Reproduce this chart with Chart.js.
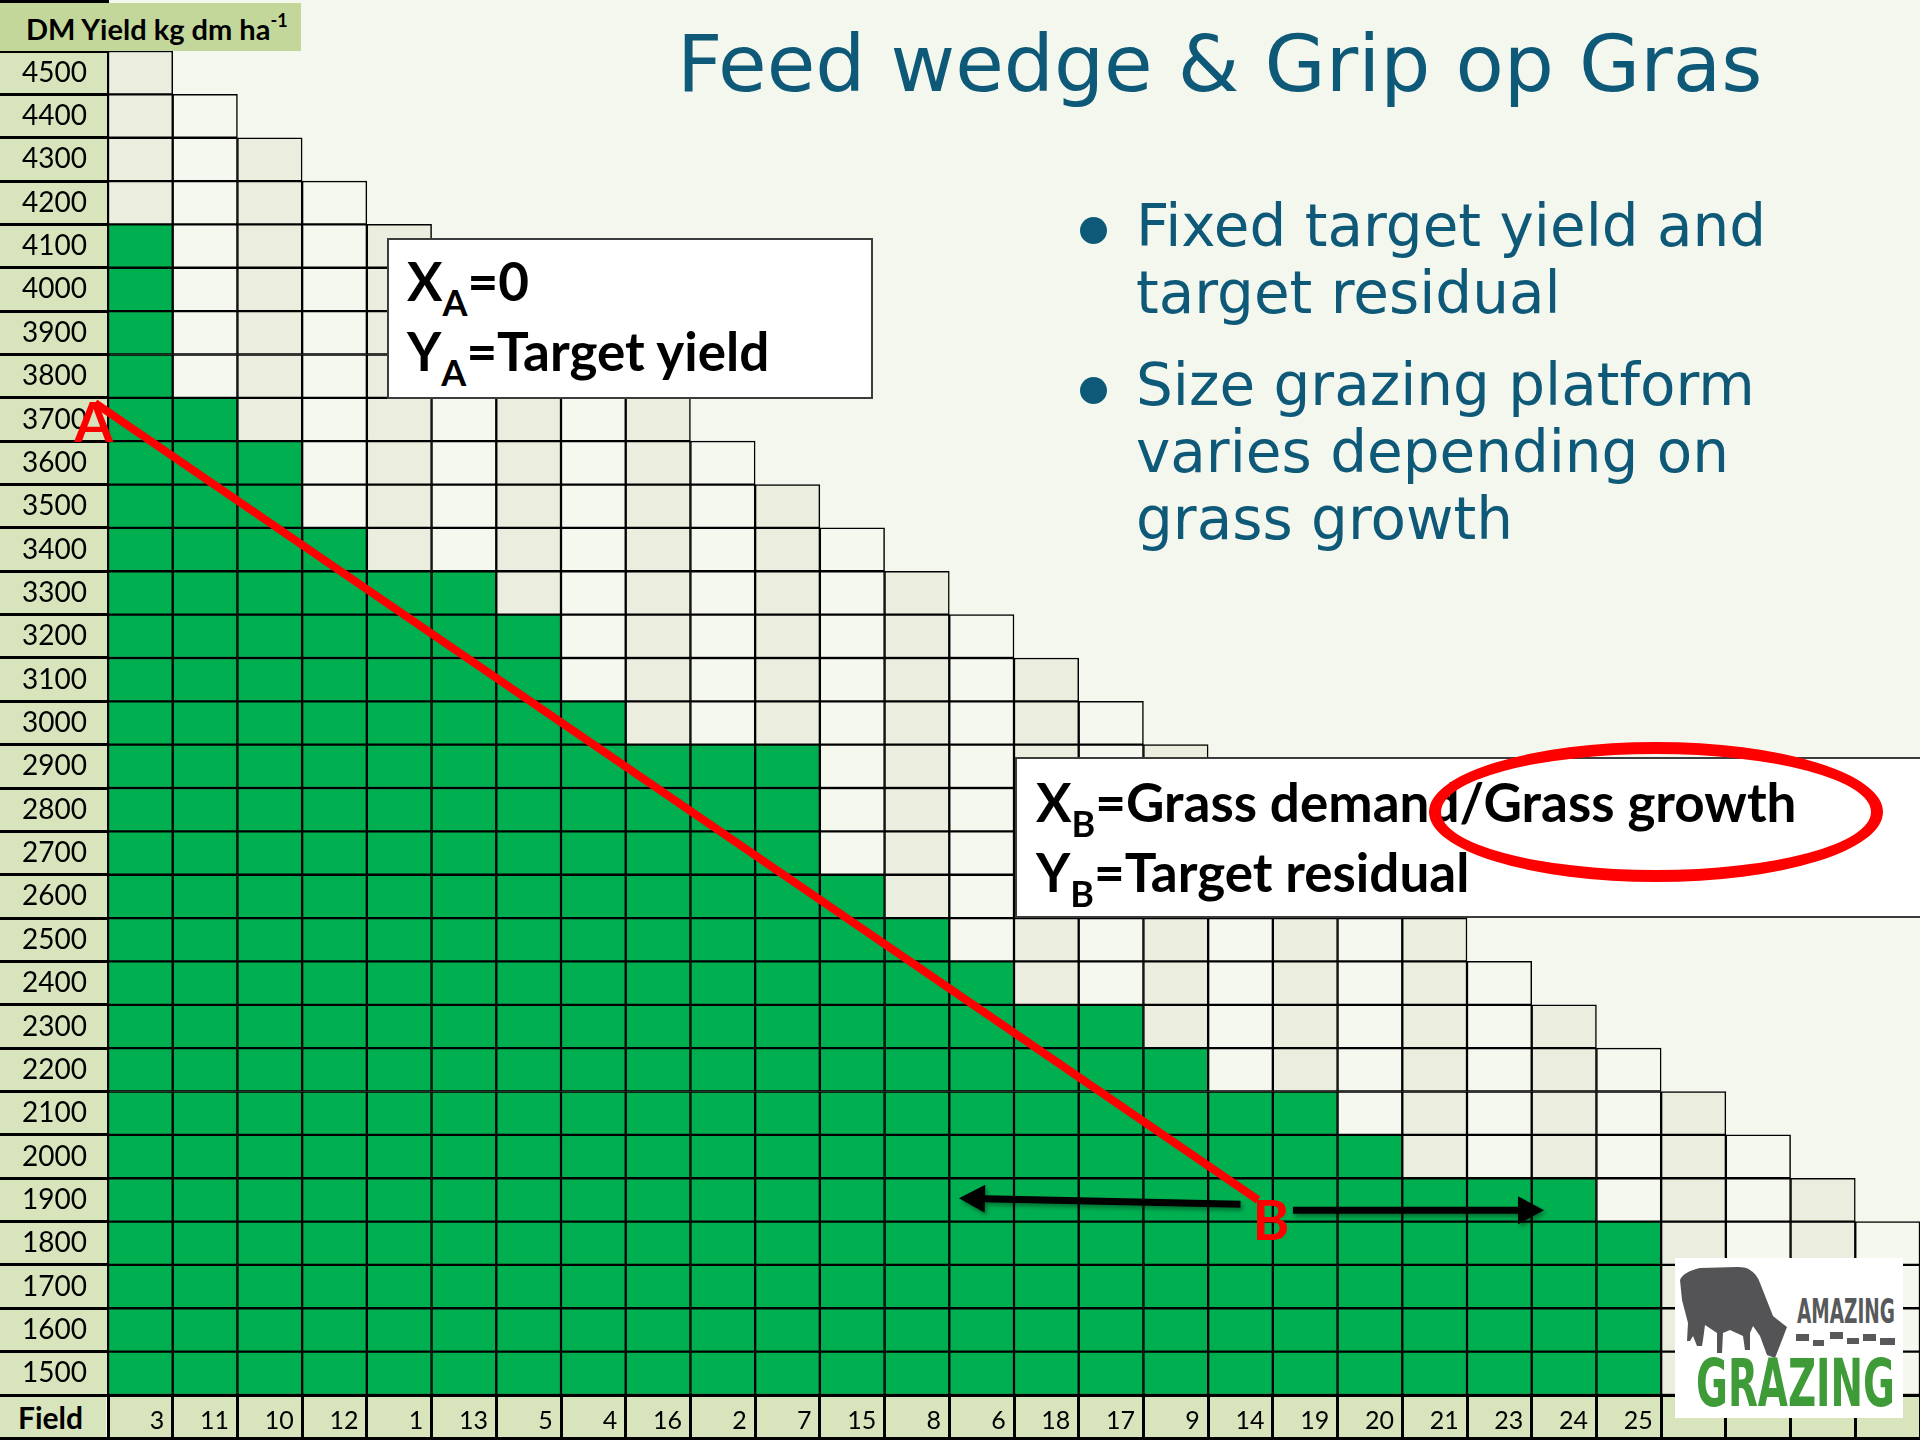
<!DOCTYPE html>
<html lang="en">
<head>
<meta charset="UTF-8">
<title>Feed wedge &amp; Grip op Gras</title>
<script src="https://cdn.jsdelivr.net/npm/chart.js@4"></script>
<style>
  html, body { margin: 0; padding: 0; }
  body { width: 1920px; height: 1440px; position: relative; overflow: hidden; background: #F4F7EE; }
  #wedge { position: absolute; left: 0; top: 0; }
  .ov { position: absolute; white-space: nowrap; }
  .title { left: 677px; top: 25px; font: 79px/79px 'DejaVu Sans', sans-serif; color: #0E5878; }
  .bullets { left: 1136px; font: 58px/67px 'DejaVu Sans', sans-serif; color: #0E5878; }
  .dot { width: 27px; height: 27px; border-radius: 50%; background: #0E5878; }
  .box { background: #fff; border: 2px solid #3C3C3C; box-sizing: border-box; }
  .boxtxt { font: bold 53px/70px Lato, sans-serif; color: #000; }
  .sub { font-size: 36px; vertical-align: -15px; line-height: 0; }
  .header { left: 0; top: 3px; width: 301px; height: 48px; background: #C4D79B; box-sizing: border-box;
            padding: 2px 0 0 26px; font: bold 29px/48px Lato, sans-serif; color: #000; }
  .header sup { font-size: 18px; vertical-align: 13px; line-height: 0; }
  .field { left: 0; top: 1397px; width: 106px; height: 40px; background: #D8E4BC; box-sizing: border-box;
           padding-left: 18px; font: bold 30px/40px Lato, sans-serif; color: #000; }
  .ring { left: 1429px; top: 742px; width: 454px; height: 140px; box-sizing: border-box;
          border: 12px solid #FF0000; border-radius: 50%; }
</style>
</head>
<body>
<canvas id="wedge" width="1920" height="1440"></canvas>

<div class="ov" style="left:0;top:0;width:109px;height:3px;background:#000"></div>
<div class="ov header">DM Yield kg dm ha<sup>-1</sup></div>
<div class="ov field">Field</div>
<div class="ov" style="left:0;top:1437px;width:1920px;height:3px;background:#000"></div>

<div class="ov title">Feed wedge &amp; Grip op Gras</div>

<div class="ov dot" style="left:1080px;top:217px"></div>
<div class="ov bullets" style="top:193px">Fixed target yield and<br>target residual</div>
<div class="ov dot" style="left:1080px;top:377px"></div>
<div class="ov bullets" style="top:352px">Size grazing platform<br>varies depending on<br>grass growth</div>

<div class="ov box" style="left:387px;top:238px;width:486px;height:161px"></div>
<div class="ov boxtxt" style="left:407px;top:246px">X<span class="sub">A</span>=0<br>Y<span class="sub">A</span>=Target yield</div>

<div class="ov box" style="left:1015px;top:757px;width:920px;height:161px"></div>
<div class="ov boxtxt" style="left:1036px;top:767px">X<span class="sub">B</span>=Grass demand/Grass growth<br>Y<span class="sub">B</span>=Target residual</div>
<div class="ov ring"></div>

<svg class="ov" style="left:1675px;top:1258px" width="228" height="160" viewBox="0 0 228 160">
  <rect width="228" height="160" fill="#fff"/>
  <path fill="#545457" d="M5,22 Q8,14 25,10 L62,9 Q72,9 75,12 Q82,16 85,25 L98,58 L108,66 L112,69
        L107,82 L100,100 L92,97 L85,78 L78,68 L75,75 L75,92 L70,92 L68,78 L55,72 L48,75 L47,95
        L42,95 L42,75 L30,67 L28,82 L27,88 L22,88 L18,78 L15,83 L12,83 L13,65 L7,42 Z"/>
  <text x="122" y="65" font-family="'DejaVu Sans Condensed', sans-serif" font-weight="bold" font-size="34"
        fill="#58595B" textLength="98" lengthAdjust="spacingAndGlyphs">AMAZING</text>
  <g fill="#58595B">
    <rect x="121" y="76" width="13" height="7"/><rect x="138" y="82" width="11" height="6"/>
    <rect x="155" y="74" width="13" height="7"/><rect x="172" y="80" width="12" height="6"/>
    <rect x="188" y="76" width="13" height="7"/><rect x="205" y="80" width="15" height="7"/>
  </g>
  <text x="21" y="148" font-family="'DejaVu Sans Condensed', sans-serif" font-weight="bold" font-size="66"
        fill="#3E9B37" textLength="199" lengthAdjust="spacingAndGlyphs">GRAZING</text>
</svg>

<script>
// fields in grazing order (last four columns carry no field number)
const fields = ['3', '11', '10', '12', '1', '13', '5', '4', '16', '2', '7', '15', '8', '6',
                '18', '17', '9', '14', '19', '20', '21', '23', '24', '25', '', '', '', ''];
// yield rows on the left, kg dm/ha
const yieldRows = [1500, 1600, 1700, 1800, 1900, 2000, 2100, 2200, 2300, 2400, 2500,
                   2600, 2700, 2800, 2900, 3000, 3100, 3200, 3300, 3400, 3500, 3600,
                   3700, 3800, 3900, 4000, 4100, 4200, 4300, 4400, 4500];
// current yield per field (top green cell)
const greenTop = [4100, 3700, 3600, 3400, 3300, 3300, 3200, 3000, 2900, 2900, 2900, 2600,
                  2500, 2400, 2300, 2300, 2200, 2100, 2100, 2000, 1900, 1900, 1900, 1800,
                  null, null, null, null];
// highest cell drawn in each column (the wedge outline)
const gridTop = [4500, 4400, 4300, 4200, 4100, 4000, 3900, 3800, 3700, 3600, 3500, 3400,
                 3300, 3200, 3100, 3000, 2900, 2800, 2700, 2600, 2500, 2400, 2300, 2200,
                 2100, 2000, 1900, 1800];
// target line from A to B (x in columns from the left edge, y in kg dm/ha)
const lineAB = [{ x: -0.2, y: 3738 }, { x: 17.77, y: 1900 }];
const arrowLeft = [{ x: 17.5, y: 1890 }, { x: 13.15, y: 1904 }];
const arrowRight = [{ x: 18.31, y: 1876 }, { x: 22.19, y: 1876 }];
const pointLabels = [{ text: 'A', x: -0.22, y: 3690 }, { text: 'B', x: 17.97, y: 1850 }];

const GREEN = '#00B050', BEIGE = '#EBEEDF', PALE = '#F5F8EF', LABEL_BG = '#D8E4BC';
const rowEdges = yieldRows.map(r => r - 50).concat(yieldRows[yieldRows.length - 1] + 50);

// one bar dataset per yield row, each cell a floating bar
const cellSets = yieldRows.map(r => ({
    type: 'bar',
    label: String(r),
    data: gridTop.map(top => (r <= top ? [r - 50, r + 50] : null)),
    backgroundColor: gridTop.map((top, c) =>
        (greenTop[c] !== null && r <= greenTop[c]) ? GREEN : (c % 2 === 0 ? BEIGE : PALE)),
    borderColor: '#000',
    borderWidth: 1.5,
    borderSkipped: false,
    grouped: false,
    barPercentage: 1,
    categoryPercentage: 1
}));

function drawArrow(ctx, from, to) {
    const ang = Math.atan2(to[1] - from[1], to[0] - from[0]);
    const len = Math.hypot(to[0] - from[0], to[1] - from[1]);
    ctx.save();
    ctx.translate(from[0], from[1]);
    ctx.rotate(ang);
    ctx.beginPath();
    ctx.moveTo(0, -3.5);
    ctx.lineTo(len - 26, -3.5);
    ctx.lineTo(len - 26, -14);
    ctx.lineTo(len, 0);
    ctx.lineTo(len - 26, 14);
    ctx.lineTo(len - 26, 3.5);
    ctx.lineTo(0, 3.5);
    ctx.closePath();
    ctx.fill();
    ctx.restore();
}

const annotate = {
    id: 'annotate',
    afterDatasetsDraw(chart) {
        const { ctx, scales: { x2, y } } = chart;
        const px = p => [x2.getPixelForValue(p.x), y.getPixelForValue(p.y)];
        ctx.save();
        ctx.fillStyle = '#000';
        ctx.shadowColor = 'rgba(0,0,0,0.35)';
        ctx.shadowOffsetX = 2;
        ctx.shadowOffsetY = 3;
        ctx.shadowBlur = 4;
        drawArrow(ctx, px(arrowLeft[0]), px(arrowLeft[1]));
        drawArrow(ctx, px(arrowRight[0]), px(arrowRight[1]));
        ctx.restore();

        ctx.save();
        ctx.fillStyle = '#FF0000';
        ctx.font = 'bold 56px Lato, sans-serif';
        ctx.textAlign = 'center';
        ctx.textBaseline = 'middle';
        pointLabels.forEach(p => {
            const [lx, ly] = px(p);
            ctx.fillText(p.text, lx, ly);
        });
        ctx.restore();
    }
};

new Chart(document.getElementById('wedge'), {
    type: 'bar',
    data: {
        labels: fields,
        datasets: [{
            type: 'line',
            label: 'A-B',
            xAxisID: 'x2',
            data: lineAB,
            borderColor: '#FF0000',
            borderWidth: 8,
            pointRadius: 0,
            clip: false,
            order: -1
        }, ...cellSets]
    },
    options: {
        responsive: false,
        animation: false,
        layout: { padding: { top: 51, left: 0, right: 0, bottom: 0 } },
        plugins: { legend: { display: false }, tooltip: { enabled: false } },
        scales: {
            x: {
                type: 'category',
                offset: true,
                backgroundColor: LABEL_BG,
                grid: { offset: true, drawOnChartArea: false, tickLength: 45, color: '#000', lineWidth: 3 },
                border: { display: true, color: '#000', width: 3 },
                ticks: {
                    autoSkip: false, maxRotation: 0, align: 'end', labelOffset: 24, padding: -34,
                    color: '#000', font: { family: 'Lato', size: 25 }
                },
                afterFit: s => { s.height = 45; }
            },
            y: {
                type: 'linear',
                min: rowEdges[0],
                max: rowEdges[rowEdges.length - 1],
                backgroundColor: LABEL_BG,
                afterBuildTicks: s => { s.ticks = rowEdges.map(v => ({ value: v })); },
                grid: { drawOnChartArea: false, tickLength: 108, color: '#000', lineWidth: 3 },
                border: { display: true, color: '#000', width: 3 },
                ticks: {
                    autoSkip: false, padding: -87, labelOffset: -21.68,
                    color: '#000', font: { family: 'Lato', size: 28 },
                    callback: v => (yieldRows.includes(v + 50) ? String(v + 50) : '')
                },
                afterFit: s => { s.width = 108; }
            },
            x2: {
                type: 'linear', min: 0, max: fields.length, offset: false, display: false,
                grid: { offset: false }
            }
        }
    },
    plugins: [annotate]
});
</script>
</body>
</html>
